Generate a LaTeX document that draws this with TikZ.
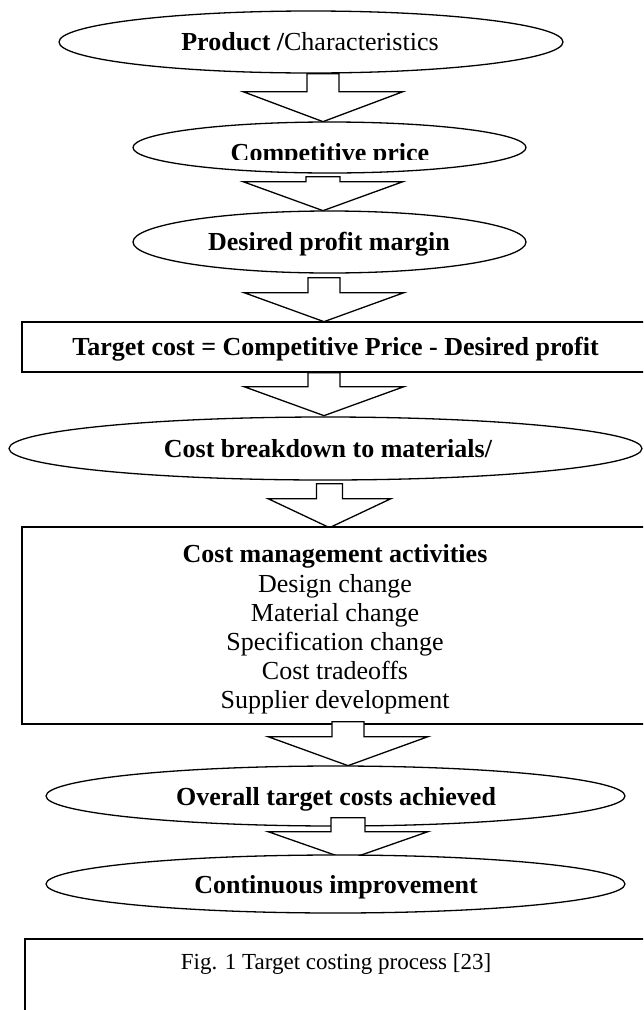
\documentclass[tikz,border=0pt]{standalone}
\usepackage{fontspec}
\setmainfont{Liberation Serif}
\usetikzlibrary{shapes.geometric,calc}
\tikzset{
  ell/.style={draw, ellipse, line width=1.3pt, fill=white, inner sep=0pt},
  box/.style={draw, rectangle, line width=1.3pt, fill=white, inner sep=0pt},
  blk/.style={draw, line width=1.3pt, fill=white, line join=miter, miter limit=20},
  ttl/.style={anchor=base, inner sep=0pt, font=\bfseries\fontsize{26}{29}\selectfont},
  txt/.style={anchor=base, inner sep=0pt, font=\fontsize{26}{29}\selectfont},
  captxt/.style={anchor=base, inner sep=0pt, font=\fontsize{23}{26}\selectfont},
}
% #1 source node, #2 x centre, #3 shaft half width, #4 head half width,
% #5 shaft top, #6 shoulders, #7 tip (all in px below the source's south)
\newcommand\blockarrow[7]{%
  \draw[blk] let \p1=(#1.south) in
    ({(#2-#3)*1pt},{\y1-(#5)*1pt}) -- ({(#2-#3)*1pt},{\y1-(#6)*1pt})
    -- ({(#2-#4)*1pt},{\y1-(#6)*1pt}) -- ({(#2)*1pt},{\y1-(#7)*1pt})
    -- ({(#2+#4)*1pt},{\y1-(#6)*1pt}) -- ({(#2+#3)*1pt},{\y1-(#6)*1pt})
    -- ({(#2+#3)*1pt},{\y1-(#5)*1pt}) -- cycle;
}
\begin{document}
\begin{tikzpicture}[x=1pt,y=-1pt]
\clip (0,0) rectangle (643,1010);
\fill[white] (0,0) rectangle (643,1010);
\node[ell, minimum width=504pt, minimum height=62pt] (e1) at (311,42) {};
\node[ttl] (t1) at (310,50) {Product /\mdseries Characteristics};
\blockarrow{e1}{323}{16}{80}{0}{18}{48}
\node[ell, minimum width=393pt, minimum height=51pt] (e2) at (329.5,147.5) {};
\begin{scope}
\clip (100,100) rectangle (560,159.5);
\node[ttl] (t2) at (330,161) {Competitive price};
\end{scope}
\blockarrow{e2}{323}{17}{80}{3}{8}{37}
\node[ell, minimum width=393pt, minimum height=62pt] (e3) at (329.5,242) {};
\node[ttl] (t3) at (329,250) {Desired profit margin};
\blockarrow{e3}{324}{16}{80}{4}{19}{48}
\node[box, minimum width=627pt, minimum height=50pt] (r1) at (335.5,347) {};
\node[ttl] (t4) at (335.5,355) {Target cost = Competitive Price - Desired profit};
\blockarrow{r1}{324}{16}{80}{0}{14}{43}
\node[ell, minimum width=633pt, minimum height=63pt] (e4) at (325.5,448.5) {};
\node[ttl] (t5) at (328,457) {Cost breakdown to materials/};
\blockarrow{e4}{329.5}{13}{61.5}{3}{18}{47}
\node[box, minimum width=627pt, minimum height=197pt] (r2) at (335.5,625.5) {};
\node[ttl] (t6) at (335,562) {Cost management activities};
\node[txt] (t7) at (335,592) {Design change};
\node[txt] (t8) at (335,621) {Material change};
\node[txt] (t9) at (335,650) {Specification change};
\node[txt] (t10) at (335,679) {Cost tradeoffs};
\node[txt] (t11) at (335,708) {Supplier development};
\blockarrow{r2}{348}{16}{80}{-3}{12}{41}
\node[ell, minimum width=579pt, minimum height=60pt] (e5) at (335.5,796) {};
\node[ttl] (t12) at (336,805) {Overall target costs achieved};
\blockarrow{e5}{348}{17}{80}{-9}{5}{33}
\node[ell, minimum width=579pt, minimum height=58pt] (e6) at (335.5,884) {};
\node[ttl] (t13) at (336,893) {Continuous improvement};
\node[box, minimum width=621pt, minimum height=120pt] (r3) at (335.5,999) {};
\node[captxt] (t14) at (336,969) {Fig. 1 Target costing process [23]};
\end{tikzpicture}
\end{document}
